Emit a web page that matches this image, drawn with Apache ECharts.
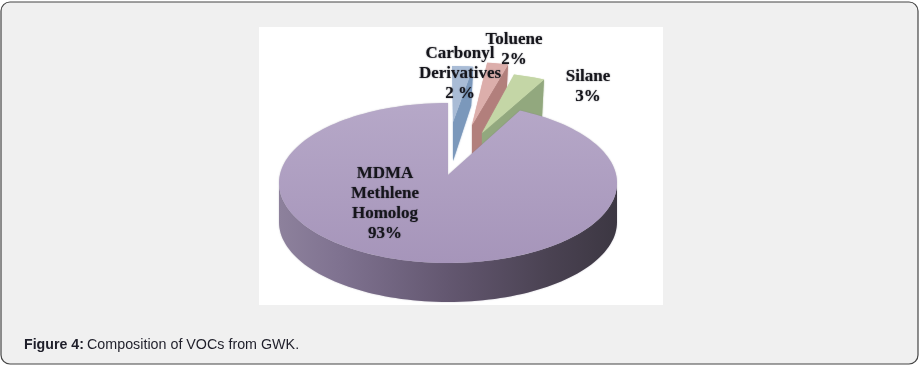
<!DOCTYPE html>
<html><head><meta charset="utf-8">
<style>html,body{margin:0;padding:0;background:#fff}#c{width:924px;height:365px}</style>
<script src="https://cdn.jsdelivr.net/npm/echarts@6/dist/echarts.min.js"></script>
</head><body><div id="c"></div>
<script>
const categories = ['Carbonyl\nDerivatives', 'Toluene', 'Silane', 'MDMA\nMethlene\nHomolog'];
const seriesValues = [2, 2, 3, 93];
const valueLabels = ['2 %', '2%', '3%', '93%'];
const caption = 'Composition of VOCs from GWK.';
const captionLead = 'Figure 4:';

// pie geometry / styling
const CX = 448, CY = 183, RX = 169, RY = 80, DEPTH = 39, APEX_Y = 175;
const styles = [
  { dx: 4,  dy: -37, ax: 1,  ay: -16, top: '#a9bcd6', wall: '#7b98bb' },
  { dx: 18, dy: -41, ax: 6,  ay: -9,  top: '#dcaeab', wall: '#b27f7c' },
  { dx: 24, dy: -31, ax: 10, ay: -11, top: '#c4d6a6', wall: '#92a87e' },
  { dx: 0,  dy: 0,   ax: 0,  ay: 0,   top: null, wall: null }
];
const labelPos = [[460, 74], [514, 50], [588, 87], [385, 204]];
const total = seriesValues.reduce((a, b) => a + b, 0);

function pt(deg, dx, dy) {
  const r = deg * Math.PI / 180;
  return [CX + dx + RX * Math.sin(r), CY + dy - RY * Math.cos(r)];
}
function arc(a, b, dx, dy) {
  const out = [], n = Math.max(2, Math.ceil(Math.abs(b - a) / 2));
  for (let i = 0; i <= n; i++) out.push(pt(a + (b - a) * i / n, dx, dy));
  return out;
}
function angleRange(i) {
  let s = 0;
  for (let k = 0; k < i; k++) s += seriesValues[k] / total * 360;
  return [s, s + seriesValues[i] / total * 360];
}
const bigTop = { type: 'linear', x: 0, y: 0, x2: 0, y2: 1, colorStops: [
  { offset: 0, color: '#b6a8c8' }, { offset: 1, color: '#a695ba' }] };
const bigWall = { type: 'linear', x: 0, y: 0, x2: 1, y2: 0, colorStops: [
  { offset: 0, color: '#8d819c' }, { offset: 0.18, color: '#7f7290' }, { offset: 0.5, color: '#635770' },
  { offset: 0.8, color: '#4a4252' }, { offset: 1, color: '#3c3742' }] };
const soft = { shadowBlur: 1.5, shadowColor: 'rgba(120,110,135,0.5)' };

function renderSlice(params, api) {
  const i = params.dataIndex, st = styles[i];
  const [a, b] = angleRange(i);
  const apex = [CX + st.dx + st.ax, APEX_Y + st.dy + st.ay];
  const kids = [];
  if (st.top) {
    const ar = arc(a, b, st.dx, st.dy);
    const last = ar[ar.length - 1];
    kids.push({ type: 'polygon', shape: { points: [apex, last, [last[0] - 2, last[1] + DEPTH], [apex[0], apex[1] + DEPTH]] },
      style: { fill: st.wall, shadowBlur: 1.5, shadowColor: st.wall } });
    kids.push({ type: 'polygon', shape: { points: [apex].concat(ar) }, style: { fill: st.top, shadowBlur: 1, shadowColor: st.top } });
  } else {
    const ar = arc(a, b, 0, 0);
    const wallTop = arc(90, 270, 0, 0);
    const wallBot = wallTop.slice().reverse().map(p => [p[0], p[1] + DEPTH]);
    kids.push({ type: 'polygon', shape: { points: wallTop.concat(wallBot) }, style: Object.assign({ fill: bigWall }, soft) });
    kids.push({ type: 'polygon', shape: { points: [[CX, APEX_Y]].concat(ar) }, style: Object.assign({ fill: bigTop }, soft) });
  }
  return { type: 'group', children: kids };
}
function renderLabel(params, api) {
  const i = params.dataIndex;
  return { type: 'text', x: labelPos[i][0], y: labelPos[i][1],
    style: { text: categories[i] + '\n' + valueLabels[i], fill: '#16161c', align: 'center', verticalAlign: 'middle',
      font: 'bold 17px "Liberation Serif"', lineHeight: 20, textShadowColor: 'rgba(30,30,40,0.6)', textShadowBlur: 1.5 } };
}

const chart = echarts.init(document.getElementById('c'), null, { renderer: 'canvas' });
chart.setOption({
  animation: false,
  graphic: [
    { type: 'rect', z: -3, shape: { x: 1, y: 2, width: 917, height: 362, r: 9 }, style: { fill: '#f0f0f0', stroke: '#454545', lineWidth: 1.2 } },
    { type: 'rect', z: -2, shape: { x: 259, y: 27, width: 404, height: 278 }, style: { fill: '#ffffff' } },
    { type: 'text', z: -1, x: 24, y: 345, style: { text: captionLead, font: 'bold 14.2px "Liberation Sans"', fill: '#1f1f2a', verticalAlign: 'middle' } },
    { type: 'text', z: -1, x: 87, y: 345, style: { text: caption, font: '14.3px "Liberation Sans"', fill: '#1f1f2a', verticalAlign: 'middle' } }
  ],
  series: [
    { type: 'custom', coordinateSystem: 'none', z: 2, silent: true, renderItem: renderSlice, data: seriesValues.map(v => [v]) },
    { type: 'custom', coordinateSystem: 'none', z: 3, silent: true, renderItem: renderLabel, data: seriesValues.map(v => [v]) }
  ]
});
</script></body></html>
